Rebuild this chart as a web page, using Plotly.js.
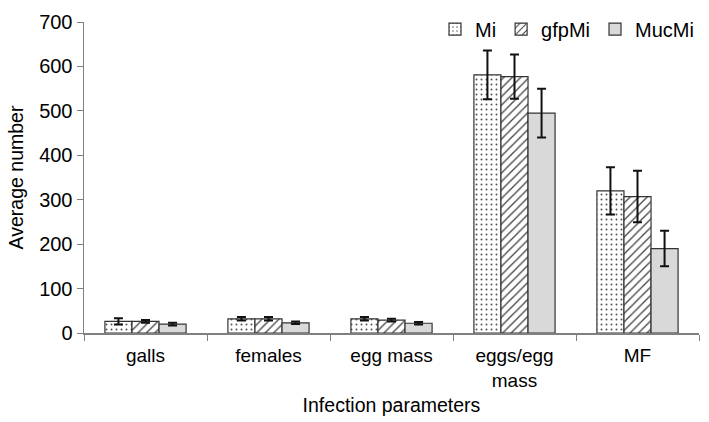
<!DOCTYPE html>
<html>
<head>
<meta charset="utf-8">
<script src="https://cdn.plot.ly/plotly-3.0.1.min.js"></script>
<style>html,body{margin:0;padding:0;background:#fff;}#chart{width:709px;height:422px;}</style>
</head>
<body>
<div id="chart"></div>
<script>
const categories = ["galls", "females", "egg mass", "eggs/egg<br>mass", "MF"];
const seriesNames = ["Mi", "gfpMi", "MucMi"];
const miValues = [26, 32, 32, 581, 320];
const miErrors = [7, 4, 4, 55, 53];
const gfpValues = [26, 32, 29, 577, 307];
const gfpErrors = [3, 4, 3, 50, 58];
const mucValues = [20, 23, 22, 495, 190];
const mucErrors = [3, 3, 3, 55, 40];
const yTicks = [0, 100, 200, 300, 400, 500, 600, 700];

const lineStyle = {color: '#333', width: 1.2};
const errStyle = (arr) => ({type: 'data', array: arr, visible: true, color: '#111', thickness: 2, width: 4.5});

const traces = [
  {type: 'bar', name: seriesNames[0], x: categories, y: miValues, error_y: errStyle(miErrors),
   marker: {color: '#ffffff', line: lineStyle, pattern: {shape: '.', fgcolor: '#555', bgcolor: '#ffffff', size: 5, solidity: 0.12}}},
  {type: 'bar', name: seriesNames[1], x: categories, y: gfpValues, error_y: errStyle(gfpErrors),
   marker: {color: '#ffffff', line: lineStyle, pattern: {shape: '/', fgcolor: '#444', bgcolor: '#ffffff', size: 6, solidity: 0.22}}},
  {type: 'bar', name: seriesNames[2], x: categories, y: mucValues, error_y: errStyle(mucErrors),
   marker: {color: '#d9d9d9', line: lineStyle}}
];

const layout = {
  width: 709, height: 422,
  margin: {l: 84, r: 10, t: 12, b: 89},
  paper_bgcolor: '#fff', plot_bgcolor: '#fff',
  font: {family: 'Liberation Sans, Arial, sans-serif', color: '#000', size: 19},
  barmode: 'group', bargap: 0.34, bargroupgap: 0,
  showlegend: true,
  legend: {orientation: 'h', x: 1.0, xanchor: 'right', y: 1.04, yanchor: 'top', font: {size: 20}, bgcolor: 'rgba(0,0,0,0)', itemwidth: 30, traceorder: 'normal'},
  xaxis: {
    type: 'category', showgrid: false, showline: true, linecolor: '#808080', linewidth: 1.5,
    ticks: 'outside', tickson: 'boundaries', ticklen: 6, tickcolor: '#808080',
    tickfont: {size: 19}, ticklabelstandoff: 5, zeroline: false,
    title: {text: 'Infection parameters', font: {size: 19.5}, standoff: 8}
  },
  yaxis: {
    range: [0, 700], tickvals: yTicks, showgrid: false, showline: true, linecolor: '#808080', linewidth: 1.5,
    ticks: 'outside', ticklen: 6, tickcolor: '#808080', tickfont: {size: 20}, zeroline: false,
    title: {text: 'Average number', font: {size: 19.5}, standoff: 10}
  }
};

Plotly.newPlot('chart', traces, layout, {displayModeBar: false, staticPlot: true});
</script>
</body>
</html>
